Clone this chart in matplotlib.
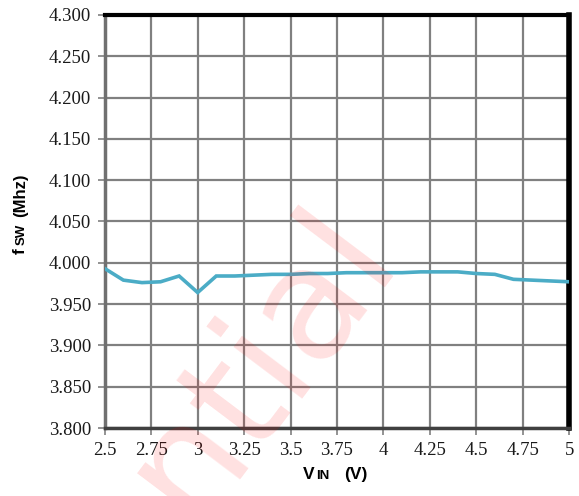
import numpy as np
from matplotlib import pyplot as plt

# switching frequency vs input voltage
vin = [2.5, 2.6, 2.7, 2.8, 2.9, 3.0, 3.1, 3.2, 3.3, 3.4, 3.5, 3.6, 3.7,
       3.8, 3.9, 4.0, 4.1, 4.2, 4.3, 4.4, 4.5, 4.6, 4.7, 4.8, 4.9, 5.0]
fsw = [3.993, 3.979, 3.976, 3.977, 3.984, 3.964, 3.984, 3.984, 3.985, 3.986,
       3.986, 3.987, 3.987, 3.988, 3.988, 3.988, 3.988, 3.989, 3.989, 3.989,
       3.987, 3.986, 3.980, 3.979, 3.978, 3.977]
x_ticks = [2.5, 2.75, 3, 3.25, 3.5, 3.75, 4, 4.25, 4.5, 4.75, 5]
x_tick_labels = ['2.5', '2.75', '3', '3.25', '3.5', '3.75', '4', '4.25', '4.5', '4.75', '5']
y_ticks = np.arange(3.8, 4.3001, 0.05)

fig = plt.figure(figsize=(5.79, 4.96), dpi=100)
ax = fig.add_axes([0.181, 0.137, 0.802, 0.833])

ax.plot(vin, fsw, '-', color='#4BACC6', lw=2.6, zorder=3, solid_joinstyle='miter')

ax.set_xlim(2.5, 5)
ax.set_ylim(3.8, 4.3)
ax.set_xticks(x_ticks)
ax.set_xticklabels(x_tick_labels)
ax.set_yticks(y_ticks)
ax.set_yticklabels(['{:.3f}'.format(v) for v in y_ticks])
ax.grid(True, color='#808080', lw=1.6)
ax.set_axisbelow(True)

for lab in ax.get_xticklabels() + ax.get_yticklabels():
    lab.set_fontfamily('Liberation Serif')
    lab.set_fontsize(13.5)
    lab.set_color('#1a1a1a')
ax.tick_params(axis='both', length=5, width=1.2, color='#808080', pad=5)

ax.spines['left'].set_color('#707070')
ax.spines['left'].set_linewidth(2.5)
ax.spines['bottom'].set_color('#404040')
ax.spines['bottom'].set_linewidth(2.5)
ax.spines['top'].set_color('black')
ax.spines['top'].set_linewidth(3)
ax.spines['right'].set_color('black')
ax.spines['right'].set_linewidth(4)

# axis titles
lbl = dict(family='Liberation Sans', weight='bold', color='black')
fig.text(0.534, 0.034, 'V', fontsize=12.5, ha='center', va='baseline', **lbl)
fig.text(0.557, 0.034, 'IN', fontsize=9.5, ha='center', va='baseline', **lbl)
fig.text(0.615, 0.034, '(V)', fontsize=12.5, ha='center', va='baseline', **lbl)

fig.text(0.048, 0.494, 'f', fontsize=12.5, rotation=90, ha='right', va='center', **lbl)
fig.text(0.048, 0.527, 'SW', fontsize=9.5, rotation=90, ha='right', va='center', **lbl)
fig.text(0.048, 0.606, '(Mhz)', fontsize=12, rotation=90, ha='right', va='center', **lbl)

# watermark
fig.text(0.45, 0.27, 'ntial', fontsize=112, rotation=53, color='red', alpha=0.12,
         family='DejaVu Sans', ha='center', va='center', zorder=10)

fig.savefig('out.png', dpi=100)
